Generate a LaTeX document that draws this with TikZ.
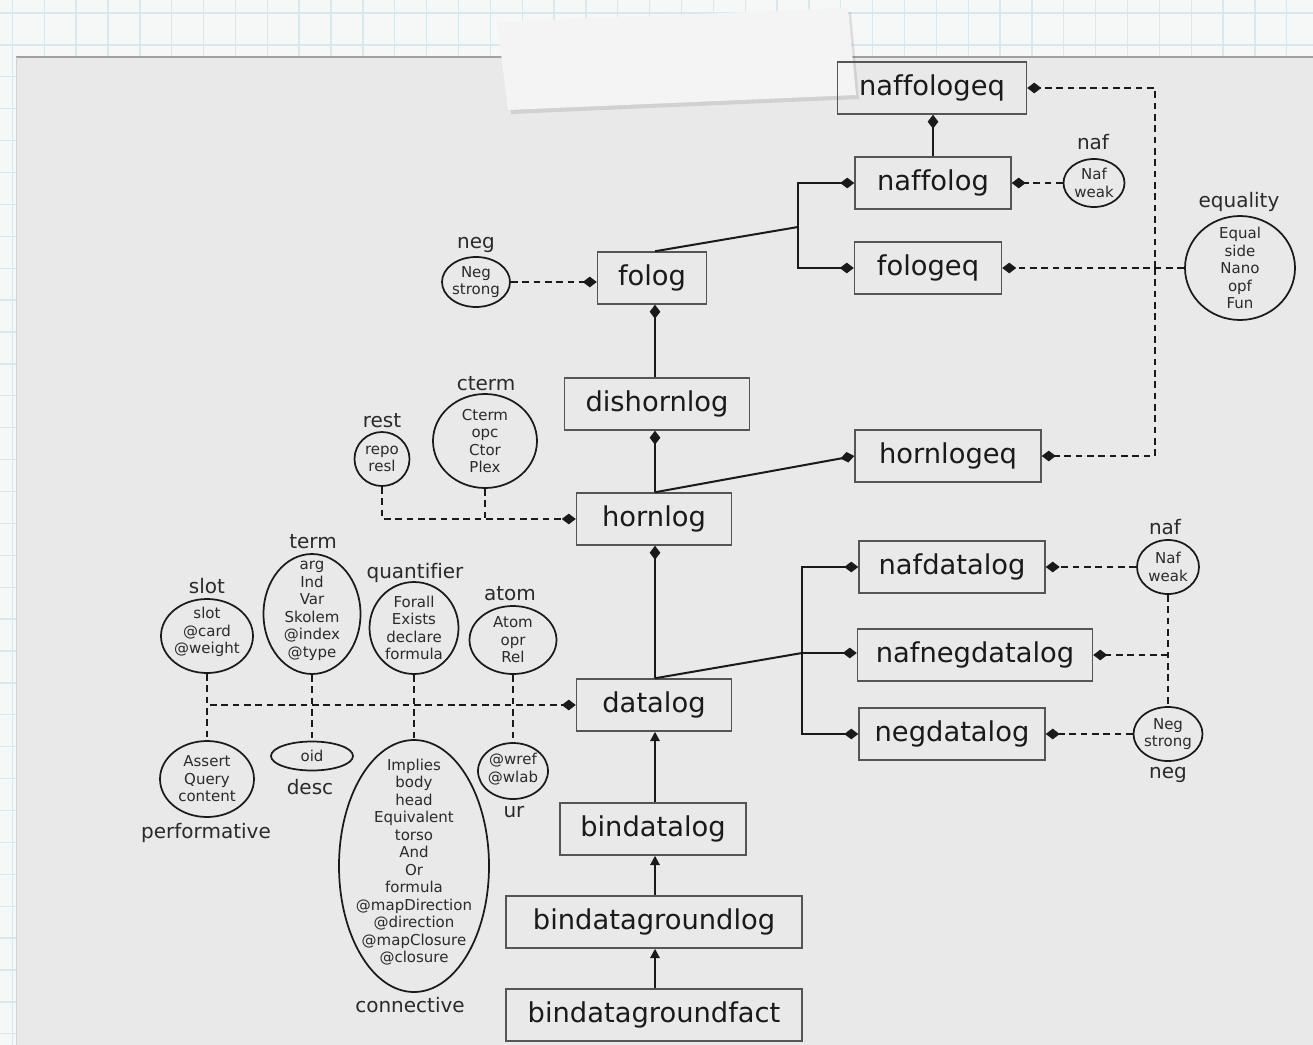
\documentclass[tikz,border=0pt]{standalone}
\usepackage{fontspec}
\setmainfont[Ligatures=NoCommon]{DejaVu Sans}
\usetikzlibrary{shapes.geometric,arrows.meta}
\definecolor{paper}{HTML}{F6F7F7}
\definecolor{gridblue}{HTML}{D6E8F0}
\definecolor{panel}{HTML}{E9E9E9}
\definecolor{paneledge}{HTML}{A0A0A0}
\definecolor{tape}{HTML}{F4F4F4}
\definecolor{boxline}{HTML}{555555}
\definecolor{ink}{HTML}{1A1A1A}
\definecolor{softink}{HTML}{2A2A2A}
\begin{document}
\begin{tikzpicture}[x=0.75pt,y=-0.75pt,
  box/.style={draw=boxline,line width=1.1pt,inner sep=0pt,minimum height=39pt,minimum width=#1*0.75pt,text=ink,font=\fontsize{20.5}{24}\selectfont},
  ell/.style 2 args={ellipse,draw=ink,line width=1.3pt,inner sep=0pt,minimum width=#1*0.75pt,minimum height=#2*0.75pt},
  etext/.style={align=center,text=softink,inner sep=0pt,font=\fontsize{11.25}{13.1}\selectfont},
  lab/.style={anchor=base,text=softink,inner sep=0pt,font=\fontsize{15}{18}\selectfont},
  conn/.style={draw=ink,line width=1.5pt},
  dconn/.style={draw=ink,line width=1.5pt,dash pattern=on 5pt off 3.5pt},
  dia/.style={-{Diamond[length=10.5pt,width=8pt]}},
  tri/.style={-{Triangle[length=7pt,width=7pt]}}
]
\useasboundingbox (0,0) rectangle (1313,1045);
% background paper with grid
\fill[paper] (0,0) rectangle (1313,1045);
\foreach \i in {0,...,41} \draw[gridblue,line width=1pt] ({12.4+31.86*\i},0) -- ({12.4+31.86*\i},1045);
\foreach \j in {0,...,33} \draw[gridblue,line width=1pt] (0,{13+31.9*\j}) -- (1313,{13+31.9*\j});
% panel
\fill[panel] (16,57) rectangle (1313,1045);
\draw[paneledge,line width=0.9pt] (16,57) -- (1313,57);
\draw[gray!35,line width=0.6pt] (16,57) -- (16,1045);
% tape
\fill[black,opacity=0.10] (500,27) -- (851,12) -- (859,99) -- (511,114) -- cycle;
\fill[tape] (497,22) -- (848,8) -- (856,95) -- (508,110) -- cycle;

% boxes
\coordinate (col) at (655,0);
\node[box=189] (naffologeq) at (932,88) {naffologeq};
\node[box=156] (naffolog) at (933,183) {naffolog};
\node[box=147] (fologeq) at (928,268) {fologeq};
\node[box=109] (folog) at (652,278) {folog};
\node[box=185] (dishornlog) at (657,404) {dishornlog};
\node[box=186] (hornlogeq) at (948,456) {hornlogeq};
\node[box=155] (hornlog) at (654,519) {hornlog};
\node[box=186] (nafdatalog) at (952,567) {nafdatalog};
\node[box=235] (nafnegdatalog) at (975,655) {nafnegdatalog};
\node[box=186] (negdatalog) at (952,734) {negdatalog};
\node[box=155] (datalog) at (654,705) {datalog};
\node[box=186] (bindatalog) at (653,829) {bindatalog};
\node[box=296] (bindatagroundlog) at (654,922) {bindatagroundlog};
\node[box=296] (bindatagroundfact) at (654,1015) {bindatagroundfact};

% ellipses
\node[ell={61}{48}] (nafA) at (1094,183) {};
\node[etext] (nafAT) at (nafA) {Naf\\weak};
\node[lab] (nafAL) at (1093,150) {naf};
\node[ell={110}{104}] (equality) at (1240,268) {};
\node[etext] (equalityT) at (equality) {Equal\\side\\Nano\\opf\\Fun};
\node[lab] (equalityL) at (1239,207) {equality};
\node[ell={68}{50}] (negA) at (476,282) {};
\node[etext] (negAT) at (negA) {Neg\\strong};
\node[lab] (negAL) at (476,248) {neg};
\node[ell={104}{94}] (cterm) at (485,441) {};
\node[etext] (ctermT) at (cterm) {Cterm\\opc\\Ctor\\Plex};
\node[lab] (ctermL) at (486,390) {cterm};
\node[ell={55}{54}] (rest) at (382,459) {};
\node[etext] (restT) at (rest) {repo\\resl};
\node[lab] (restL) at (382,427) {rest};
\node[ell={92}{74}] (slot) at (207,636) {};
\node[etext] (slotT) at (207,632) {slot\\@card\\@weight};
\node[lab] (slotL) at (207,593) {slot};
\node[ell={97}{120}] (term) at (312,614) {};
\node[etext] (termT) at (312,611) {arg\\Ind\\Var\\Skolem\\@index\\@type};
\node[lab] (termL) at (313,548) {term};
\node[ell={89}{92}] (quant) at (414,628) {};
\node[etext] (quantT) at (quant) {Forall\\Exists\\declare\\formula};
\node[lab] (quantL) at (415,578) {quantifier};
\node[ell={87}{68}] (atom) at (513,640) {};
\node[etext] (atomT) at (atom) {Atom\\opr\\Rel};
\node[lab] (atomL) at (510,600) {atom};
\node[ell={94}{76}] (perf) at (207,779) {};
\node[etext] (perfT) at (perf) {Assert\\Query\\content};
\node[lab] (perfL) at (206,838) {performative};
\node[ell={82}{29}] (oid) at (312,756) {};
\node[etext] (oidT) at (oid) {oid};
\node[lab] (oidL) at (310,794) {desc};
\node[ell={150}{252}] (connective) at (414,866) {};
\node[etext] (connectiveT) at (414,862) {Implies\\body\\head\\Equivalent\\torso\\And\\Or\\formula\\@mapDirection\\@direction\\@mapClosure\\@closure};
\node[lab] (connectiveL) at (410,1012) {connective};
\node[ell={70}{56}] (ur) at (513,771) {};
\node[etext] (urT) at (513,769) {@wref\\@wlab};
\node[lab] (urL) at (514,817) {ur};
\node[ell={62}{54}] (nafB) at (1168,567) {};
\node[etext] (nafBT) at (nafB) {Naf\\weak};
\node[lab] (nafBL) at (1165,534) {naf};
\node[ell={69}{54}] (negB) at (1168,734) {};
\node[etext] (negBT) at (negB) {Neg\\strong};
\node[lab] (negBL) at (1168,778) {neg};

% solid connectors
\draw[conn,dia] (naffolog.north) -- (naffolog.north |- naffologeq.south);
\coordinate (jfo) at (798,227);
\draw[conn] (col |- folog.north) -- (jfo);
\draw[conn,dia] (jfo) |- (naffolog.west);
\draw[conn,dia] (jfo) |- (fologeq.west);
\draw[conn,dia] (col |- dishornlog.north) -- (col |- folog.south);
\draw[conn,dia] (col |- hornlog.north) -- (col |- dishornlog.south);
\draw[conn,dia] (col |- hornlog.north) -- (hornlogeq.west);
\draw[conn,dia] (col |- datalog.north) -- (col |- hornlog.south);
\coordinate (jdl) at (802,653);
\draw[conn] (col |- datalog.north) -- (jdl);
\draw[conn,dia] (jdl) |- (nafdatalog.west);
\draw[conn,dia] (jdl) -- (jdl -| nafnegdatalog.west);
\draw[conn,dia] (jdl) |- (negdatalog.west);
\draw[conn,tri] (col |- bindatalog.north) -- (col |- datalog.south);
\draw[conn,tri] (col |- bindatagroundlog.north) -- (col |- bindatalog.south);
\draw[conn,tri] (col |- bindatagroundfact.north) -- (col |- bindatagroundlog.south);

% dashed connectors
\draw[dconn,dia] (nafA.west) -- (naffolog.east);
\coordinate (jeq) at (1155,268);
\draw[dconn,dia] (equality.west) -- (fologeq.east);
\draw[dconn,dia] (jeq) |- (naffologeq.east);
\draw[dconn,dia] (jeq) |- (hornlogeq.east);
\draw[dconn,dia] (negA.east) -- (negA.east -| folog.west);
\draw[dconn,dia] (rest.south) |- (hornlog.west);
\draw[dconn] (cterm.south) -- (cterm.south |- hornlog.west);
\draw[dconn,dia] (nafB.west) -- (nafdatalog.east);
\draw[dconn,dia] (negB.west) -- (negB.west -| negdatalog.east);
\draw[dconn] (nafB.south) -- (negB.north);
\draw[dconn,dia] (nafB.south |- nafnegdatalog.east) -- (nafnegdatalog.east);
\draw[dconn,dia] (slot.south) |- (datalog.west);
\draw[dconn] (slot.south) -- (perf.north);
\draw[dconn] (term.south) -- (oid.north);
\draw[dconn] (quant.south) -- (connective.north);
\draw[dconn] (atom.south) -- (ur.north);
\end{tikzpicture}
\end{document}
